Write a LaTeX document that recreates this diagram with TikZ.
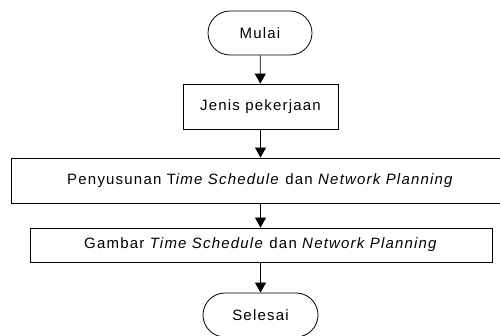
\documentclass[tikz,border=0pt]{standalone}
\usepackage{fontspec}
\setmainfont{Liberation Sans}[LetterSpace=8]
\usetikzlibrary{arrows.meta}
\begin{document}
\begin{tikzpicture}[x=1pt,y=-1pt,
  every node/.style={font=\fontsize{15}{18}\selectfont, inner sep=0pt},
  terminal/.style={draw, line width=0.8pt, rounded corners=22pt, minimum height=44pt},
  process/.style={draw, line width=0.8pt},
  flow/.style={line width=0.8pt, -{Triangle[length=10pt,width=11pt]}}]
  \useasboundingbox (0,0) rectangle (500,336);
  \clip (0,0) rectangle (500,336);
  \node[terminal, minimum width=104pt] (start) at (260,33) {Mulai};
  \node[process, minimum width=155pt, minimum height=45pt] (jenis) at (260.5,106.5) {Jenis pekerjaan};
  \node[process, minimum width=499pt, minimum height=45pt] (susun) at (260.5,180.5)
    {Penyusunan T\textit{ime Schedule} dan \textit{Network Planning}};
  \node[process, minimum width=462pt, minimum height=34pt] (gambar) at (261,245)
    {Gambar \textit{Time Schedule} dan \textit{Network Planning}};
  \node[terminal, minimum width=115pt] (end) at (260.5,315) {Selesai};
  \draw[flow] (start) -- (jenis);
  \draw[flow] (jenis) -- (jenis |- susun.north);
  \draw[flow] (jenis |- susun.south) -- (jenis |- gambar.north);
  \draw[flow] (jenis |- gambar.south) -- (end);
\end{tikzpicture}
\end{document}
